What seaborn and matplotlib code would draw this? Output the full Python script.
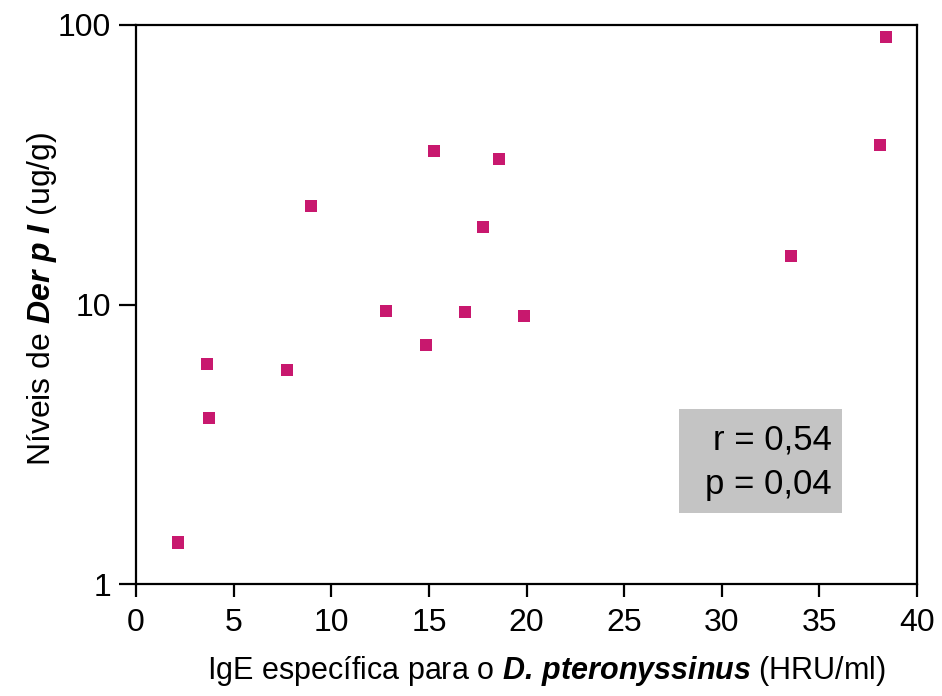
import matplotlib
matplotlib.use("Agg")
import matplotlib.pyplot as plt
import seaborn as sns
import pandas as pd
from matplotlib.patches import Rectangle
from matplotlib.ticker import FixedLocator, FixedFormatter, NullLocator

ige = [2.15, 3.64, 3.74, 7.73, 8.96, 12.8, 14.85, 15.26, 16.85, 17.77, 18.59, 19.87, 33.55, 38.1, 38.4]
derp = [1.41, 6.12, 3.93, 5.83, 22.5, 9.48, 7.16, 35.4, 9.40, 18.9, 33.2, 9.1, 14.9, 37.2, 90.6]
xticks = [0, 5, 10, 15, 20, 25, 30, 35, 40]
yticks = [1, 10, 100]
ytick_labels = ["1", "10", "100"]
stats_lines = ["r = 0,54", "p = 0,04"]

sns.set_style("white")
plt.rcParams["font.family"] = ["Liberation Sans", "DejaVu Sans"]
plt.rcParams["mathtext.fontset"] = "custom"
plt.rcParams["mathtext.rm"] = "Liberation Sans"
plt.rcParams["mathtext.it"] = "Liberation Sans:italic"
plt.rcParams["mathtext.bf"] = "Liberation Sans:bold"
plt.rcParams["mathtext.bfit"] = "Liberation Sans:bold:italic"

df = pd.DataFrame({"x": ige, "y": derp})

fig = plt.figure(figsize=(9.42, 6.96), dpi=100)
ax = fig.add_axes([0.1444, 0.1609, 0.9735 - 0.1444, 0.9641 - 0.1609])

sns.scatterplot(data=df, x="x", y="y", ax=ax, marker="s", s=80,
                color="#C8186E", edgecolor="none", linewidth=0, zorder=3)

ax.set_yscale("log")
ax.set_xlim(0, 40)
ax.set_ylim(1, 100)
ax.xaxis.set_major_locator(FixedLocator(xticks))
ax.set_xticklabels([str(t) for t in xticks])
ax.yaxis.set_major_locator(FixedLocator(yticks))
ax.yaxis.set_major_formatter(FixedFormatter(ytick_labels))
ax.yaxis.set_minor_locator(NullLocator())

for s in ax.spines.values():
    s.set_visible(True)
    s.set_color("black")
    s.set_linewidth(1.6)

ax.tick_params(axis="x", direction="out", length=9, width=1.6, labelsize=23,
               pad=8, colors="black", bottom=True)
ax.tick_params(axis="y", direction="out", length=12, width=1.6, labelsize=23,
               pad=6, colors="black", left=True)
ax.grid(False)

ax.set_xlabel(r"IgE específica para o $\mathbfit{D.\,pteronyssinus}$ (HRU/ml)",
              fontsize=22, color="black")
ax.xaxis.set_label_coords(0.526, -0.125)
ax.set_ylabel(r"Níveis de $\mathbfit{Der\ p\ I}$ (ug/g)", fontsize=23,
              color="black")
ax.yaxis.set_label_coords(-0.098, 0.51)

ax.add_patch(Rectangle((0.695, 0.127), 0.209, 0.186, transform=ax.transAxes,
                       facecolor="#c4c4c4", edgecolor="none", zorder=2))
ax.text(0.891, 0.258, stats_lines[0], transform=ax.transAxes, ha="right",
        va="center", fontsize=25, zorder=4, color="black")
ax.text(0.891, 0.178, stats_lines[1], transform=ax.transAxes, ha="right",
        va="center", fontsize=25, zorder=4, color="black")

fig.savefig("out.png", dpi=100)
